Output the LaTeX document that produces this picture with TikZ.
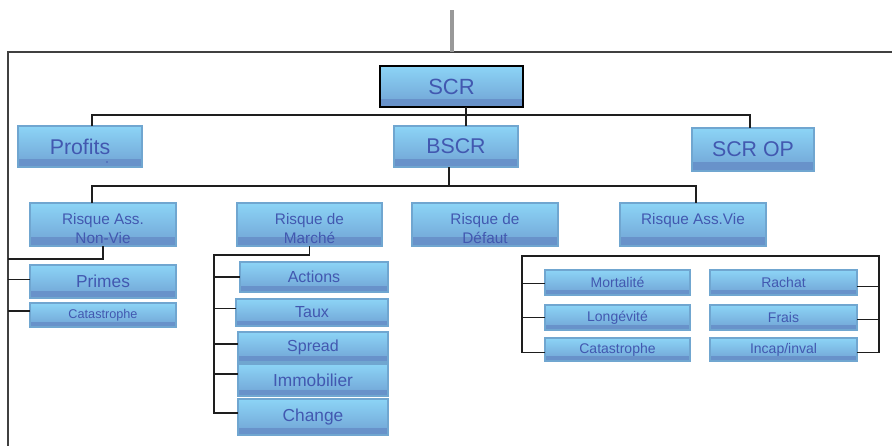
\documentclass[tikz,border=0pt]{standalone}
\usepackage{fontspec}
\setmainfont{Liberation Sans}
\usetikzlibrary{calc}

\definecolor{haut}{RGB}{140,212,246}
\definecolor{milieu}{RGB}{150,182,228}
\definecolor{bas}{RGB}{112,162,212}
\definecolor{bande}{RGB}{104,146,202}
\definecolor{bord}{RGB}{112,166,208}
\definecolor{texte}{RGB}{66,88,176}
\definecolor{trait}{RGB}{30,30,30}

\tikzset{every picture/.style={line width=0.75pt}}
\tikzset{
  boite/.style={draw=bord, line width=1.1pt, top color=haut, middle color=milieu, bottom color=bas,
    inner sep=0pt, outer sep=0pt, anchor=north west, text=texte, align=center,
    path picture={\fill[bande] (path picture bounding box.south west) rectangle
      ($(path picture bounding box.south east)!0.2!(path picture bounding box.north east)$);}},
  dims/.style 2 args={minimum width=#1*0.75pt, minimum height=#2*0.75pt},
  etiq/.style={text=texte, align=center, inner sep=0pt, yshift=-3pt, font=\fontsize{11.5}{14}\selectfont},
  lien/.style={draw=trait, line width=1.1pt},
  cadre/.style={draw=black!75, line width=1.1pt},
}

\begin{document}
\begin{tikzpicture}[x=0.75pt,y=0.75pt,yscale=-1]
\useasboundingbox (0,0) rectangle (892,446);

%Frame
\coordinate (cadreG) at (8,52);
\draw[cadre] (8,446) -- (cadreG) -- (892,52);
\draw[draw=black!40, line width=3pt] (452,10) -- (452,52);

%Level 0 and 1
\node[boite, dims={143}{41}, draw=black, line width=1.6pt, font=\fontsize{16.5}{19}\selectfont] (scr) at (380,66) {SCR};
\node[boite, dims={124}{41}, font=\fontsize{16}{19}\selectfont] (profits) at (18,126) {Profits};
\node[boite, dims={124}{41}, font=\fontsize{16}{19}\selectfont] (bscr) at (394,126) {BSCR};
\node[boite, dims={122}{43}, font=\fontsize{16}{19}\selectfont] (scrop) at (692,128) {SCR OP};
\fill[texte] (107,162) circle (0.8);

%Level 2
\node[boite, dims={146}{43}, label={[etiq]center:{Risque Ass.\\Non-Vie}}] (nonvie) at (30,203) {};
\node[boite, dims={145}{43}, label={[etiq]center:{Risque de\\Marché}}] (marche) at (237,203) {};
\node[boite, dims={146}{43}, label={[etiq]center:{Risque de\\Défaut}}] (defaut) at (412,203) {};
\node[boite, dims={146}{43}, label={[etiq]center:{Risque Ass.Vie\\\mbox{}}}] (vie) at (620,203) {};

%Non-Vie
\node[boite, dims={146}{33}, font=\fontsize{13}{15}\selectfont] (primes) at (30,265) {Primes};
\node[boite, dims={146}{24}, font=\fontsize{9.5}{11}\selectfont] (cat1) at (30,303) {Catastrophe};

%Marche
\node[boite, dims={148}{30}, font=\fontsize{12}{14}\selectfont] (actions) at (240,262) {Actions};
\node[boite, dims={152}{27}, font=\fontsize{12}{14}\selectfont] (taux) at (236,299) {Taux};
\node[boite, dims={150}{30}, font=\fontsize{12}{14}\selectfont] (spread) at (238,332) {Spread};
\node[boite, dims={150}{32}, font=\fontsize{13}{15}\selectfont] (immo) at (238,364) {Immobilier};
\node[boite, dims={150}{36}, font=\fontsize{13}{15}\selectfont] (change) at (238,399) {Change};

%Vie
\node[boite, dims={145}{25}, font=\fontsize{10.5}{12}\selectfont] (mort) at (545,270) {Mortalité};
\node[boite, dims={145}{25}, font=\fontsize{10.5}{12}\selectfont] (longev) at (545,305) {Longévité};
\node[boite, dims={145}{23}, font=\fontsize{10.5}{12}\selectfont] (catv) at (545,338) {Catastrophe};
\node[boite, dims={147}{25}, font=\fontsize{10.5}{12}\selectfont] (rachat) at (710,270) {Rachat};
\node[boite, dims={147}{25}, font=\fontsize{10.5}{12}\selectfont] (frais) at (710,305) {Frais};
\node[boite, dims={147}{23}, font=\fontsize{10.5}{12}\selectfont] (incap) at (710,338) {Incap/inval};

%Connectors level 0
\draw[lien] ($(scr.south)+(14.5,0)$) -- ($(scr.south)+(14.5,8)$) coordinate (b0);
\draw[lien] ($(profits.north)+(12,0)$) |- (b0) -| ($(scrop.north)+(-3,0)$);
\draw[lien] (b0) -- ($(bscr.north)+(10,0)$);

%Connectors level 1
\draw[lien] ($(bscr.south)+(-7,0)$) -- ++(0,19) coordinate (b1);
\draw[lien] ($(nonvie.north)+(-11,0)$) |- (b1) -| ($(vie.north)+(3,0)$);
\draw[lien] ($(marche.north)+(4,0)$) -- ($(marche.north)+(4,0)$ |- b1);
\draw[lien] ($(defaut.north)+(-3,0)$) -- ($(defaut.north)+(-3,0)$ |- b1);

%Connectors Non-Vie
\draw[lien] (nonvie.south) -- ++(0,13) coordinate (b2) -- (b2 -| cadreG);
\path (primes.west) ++(0,-2) coordinate (p1);
\path (cat1.west) ++(0,-4) coordinate (p2);
\draw[lien] (p1) -- (p1 -| cadreG);
\draw[lien] (p2) -- (p2 -| cadreG);

%Connectors Marche
\coordinate (m0) at (214,255);
\draw[lien] (marche.south) |- (m0) -- ($(m0 |- change.west)+(0,-4)$) -- ($(change.west)+(0,-4)$);
\foreach \n/\d in {actions/0,taux/-4,spread/-3,immo/-6}
  \draw[lien] ($(m0 |- \n.west)+(0,\d)$) -- ($(\n.west)+(0,\d)$);

%Connectors Vie
\coordinate (v0) at (522,256);
\coordinate (v1) at (879,256);
\draw[lien] ($(vie.south)+(3,0)$) -- ($(vie.south)+(3,0)$ |- v0);
\draw[lien] ($(v0 |- catv.west)+(0,3)$) -- (v0) -- (v1) -- ($(v1 |- incap.east)+(0,3)$);
\foreach \n/\d in {mort/1,longev/0,catv/3}
  \draw[lien] ($(v0 |- \n.west)+(0,\d)$) -- ($(\n.west)+(0,\d)$);
\foreach \n/\d in {rachat/4,frais/2,incap/3}
  \draw[lien] ($(\n.east)+(0,\d)$) -- ($(v1 |- \n.east)+(0,\d)$);

\end{tikzpicture}
\end{document}
